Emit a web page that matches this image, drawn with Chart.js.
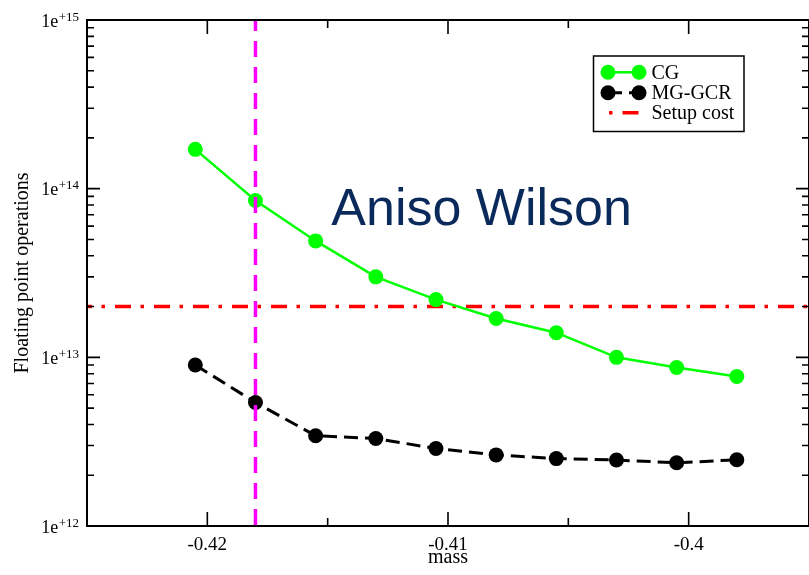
<!DOCTYPE html>
<html><head><meta charset="utf-8">
<script src="https://cdn.jsdelivr.net/npm/chart.js@4/dist/chart.umd.min.js"></script>
<style>html,body{margin:0;padding:0;background:#fff;overflow:hidden;} #wrap{width:809px;height:575px;}</style>
</head><body><div id="wrap"><canvas id="c" width="809" height="575"></canvas></div>
<script>
const masses = [-0.4205,-0.418,-0.4155,-0.413,-0.4105,-0.408,-0.4055,-0.403,-0.4005,-0.398];
const cgFlops = [1.71e14,8.5e13,4.9e13,3.0e13,2.2e13,1.7e13,1.4e13,1.0e13,8.7e12,7.7e12];
const mgFlops = [9.0e12,5.4e12,3.43e12,3.3e12,2.88e12,2.64e12,2.51e12,2.46e12,2.37e12,2.47e12];
const setupCost = 2e13;
const markedMass = -0.418;
const xRange = [-0.425,-0.395];
const yRange = [1e12,1e15];
const xMajorTicks = [-0.42,-0.41,-0.4];
const xTickLabels = ['-0.42','-0.41','-0.4'];
const xMinorTicks = [-0.415,-0.405];
const yMajorTicks = [1e12,1e13,1e14,1e15];
const yTickBase = '1e';
const yTickExponents = ['+12','+13','+14','+15'];
const seriesNames = ['CG','MG-GCR','Setup cost'];
const titleText = 'Aniso Wilson';
const titleAt = {x:-0.41485, y:6.12e13};
const xTitle = 'mass';
const yTitle = 'Floating point operations';

const SERIF = "'Liberation Serif','DejaVu Serif',serif";
const SANS = "'Liberation Sans',Arial,sans-serif";

const frame = {
  id:'frame',
  afterDatasetsDraw(chart){
    const {ctx, chartArea:a, scales:{x,y}} = chart;
    ctx.save();
    ctx.strokeStyle='#000'; ctx.lineWidth=2;
    ctx.strokeRect(a.left,a.top,a.right-a.left,a.bottom-a.top);
    ctx.lineWidth=1.6;
    ctx.beginPath();
    const tx=(v,len)=>{const p=x.getPixelForValue(v); ctx.moveTo(p,a.bottom); ctx.lineTo(p,a.bottom-len); ctx.moveTo(p,a.top); ctx.lineTo(p,a.top+len);};
    const ty=(v,len)=>{const p=y.getPixelForValue(v); ctx.moveTo(a.left,p); ctx.lineTo(a.left+len,p); ctx.moveTo(a.right,p); ctx.lineTo(a.right-len,p);};
    xMajorTicks.forEach(v=>tx(v,14));
    xMinorTicks.forEach(v=>tx(v,8));
    yMajorTicks.forEach(v=>ty(v,13));
    for(let i=0;i<yMajorTicks.length-1;i++){
      for(let m=2;m<=9;m++) ty(yMajorTicks[i]*m,7);
    }
    ctx.stroke();
    ctx.fillStyle='#000';
    ctx.font='19px '+SERIF; ctx.textAlign='center'; ctx.textBaseline='alphabetic';
    xMajorTicks.forEach((v,i)=>ctx.fillText(xTickLabels[i], x.getPixelForValue(v), 550));
    yMajorTicks.forEach((v,i)=>{
      const p=y.getPixelForValue(v);
      ctx.font='13px '+SERIF; ctx.textAlign='right';
      const sw=ctx.measureText(yTickExponents[i]).width;
      ctx.fillText(yTickExponents[i], 79, p+0.5);
      ctx.font='18px '+SERIF;
      ctx.fillText(yTickBase, 79-sw-0.5, p+6.5);
    });
    ctx.font='20px '+SERIF; ctx.textAlign='center';
    ctx.fillText(xTitle,(a.left+a.right)/2,563);
    ctx.save();
    ctx.translate(28,(a.top+a.bottom)/2);
    ctx.rotate(-Math.PI/2);
    ctx.fillText(yTitle,0,0);
    ctx.restore();
    ctx.font='52px '+SANS; ctx.textAlign='left'; ctx.fillStyle='#0b2a5c';
    ctx.fillText(titleText, x.getPixelForValue(titleAt.x), y.getPixelForValue(titleAt.y));
    const ds = chart.data.datasets;
    const L={x0:593.5,y0:56,w:150.5,h:75.5};
    ctx.fillStyle='#fff'; ctx.fillRect(L.x0,L.y0,L.w,L.h);
    ctx.strokeStyle='#000'; ctx.lineWidth=1.5; ctx.setLineDash([]);
    ctx.strokeRect(L.x0,L.y0,L.w,L.h);
    const rows=[{d:ds[1],yy:72.3,off:0},{d:ds[2],yy:92.7,off:0},{d:ds[3],yy:112.7,off:25.5}];
    rows.forEach((r,i)=>{
      const d=r.d;
      ctx.save();
      ctx.strokeStyle=d.borderColor; ctx.lineWidth=d.borderWidth;
      ctx.setLineDash(d.borderDash||[]); ctx.lineDashOffset=r.off;
      ctx.beginPath();
      ctx.moveTo(i===2?609:608,r.yy); ctx.lineTo(639,r.yy); ctx.stroke();
      ctx.setLineDash([]);
      if(d.pointRadius>0){
        ctx.fillStyle=d.pointBackgroundColor;
        [608,639].forEach(px=>{ctx.beginPath();ctx.arc(px,r.yy,d.pointRadius,0,Math.PI*2);ctx.fill();});
      }
      ctx.restore();
      ctx.fillStyle='#000'; ctx.font='20px '+SERIF; ctx.textAlign='left';
      ctx.fillText(seriesNames[i],651.5,r.yy+6.5);
    });
    ctx.restore();
  }
};

new Chart(document.getElementById('c'), {
  type:'scatter',
  data:{datasets:[
    {label:'marked', data:[{x:markedMass,y:yRange[1]},{x:markedMass,y:yRange[0]}], showLine:true,
     borderColor:'#ff00ff', borderWidth:3.5, borderDash:[16,10], borderDashOffset:5, pointRadius:0, order:0},
    {label:seriesNames[0], data:masses.map((m,i)=>({x:m,y:cgFlops[i]})), showLine:true,
     borderColor:'#00ff00', backgroundColor:'#00ff00', borderWidth:2.5, pointRadius:7.5, pointBorderWidth:0,
     pointBackgroundColor:'#00ff00', order:1},
    {label:seriesNames[1], data:masses.map((m,i)=>({x:m,y:mgFlops[i]})), showLine:true,
     borderColor:'#000000', backgroundColor:'#000000', borderWidth:3, borderDash:[14,7], pointRadius:7.5, pointBorderWidth:0,
     pointBackgroundColor:'#000000', order:2},
    {label:seriesNames[2], data:[{x:xRange[0],y:setupCost},{x:xRange[1],y:setupCost}], showLine:true,
     borderColor:'#ff0000', borderWidth:3.5, borderDash:[16,9.5,3.5,10], borderDashOffset:11, pointRadius:0, order:3}
  ]},
  options:{
    responsive:false, devicePixelRatio:1, animation:false, events:[],
    layout:{autoPadding:false, padding:{left:87,top:20,right:-2.5,bottom:49}},
    plugins:{legend:{display:false}, tooltip:{enabled:false}},
    scales:{
      x:{type:'linear',min:xRange[0],max:xRange[1],display:false},
      y:{type:'logarithmic',min:yRange[0],max:yRange[1],display:false}
    }
  },
  plugins:[frame]
});
</script></body></html>
